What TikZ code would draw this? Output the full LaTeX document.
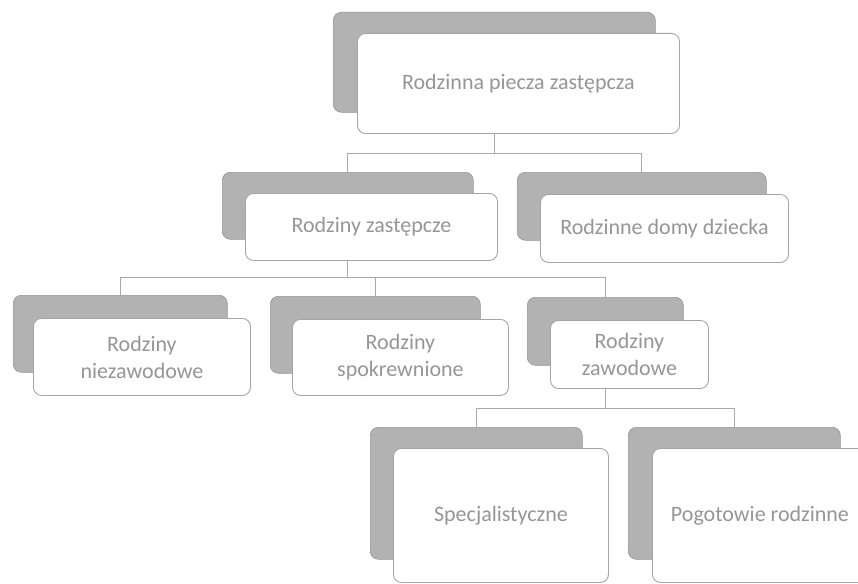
\documentclass[tikz,border=0pt]{standalone}
\usepackage{fontspec}
\setmainfont{Carlito}
\definecolor{backfill}{RGB}{178,178,178}
\definecolor{backline}{RGB}{150,150,150}
\definecolor{frontline}{RGB}{165,165,165}
\definecolor{connline}{RGB}{170,170,170}
\definecolor{txt}{RGB}{150,150,150}
\begin{document}
\begin{tikzpicture}[x=1pt,y=-1pt,
  back/.style={draw=backline, fill=backfill, rounded corners=8pt, line width=0.6pt, inner sep=0pt, anchor=north west},
  front/.style={draw=frontline, fill=white, rounded corners=8pt, line width=0.9pt, inner sep=0pt, anchor=north west,
    text=txt, font=\fontsize{22}{27}\selectfont, align=center},
  conn/.style={draw=connline, line width=1pt}]
\clip (0,0) rectangle (858,583);
\fill[white] (0,0) rectangle (858,583);

% level 1
\node[back, minimum width=322pt, minimum height=100pt] (t1b) at (333,12) {};
\node[front, minimum width=322pt, minimum height=100pt] (t1) at (357,33) {Rodzinna piecza zastępcza};

% level 2
\node[back, minimum width=251pt, minimum height=67pt] (aB) at (222,172) {};
\node[front, minimum width=252pt, minimum height=67pt] (a) at (245,193) {Rodziny zastępcze};
\node[back, minimum width=249pt, minimum height=68pt] (bB) at (517,172) {};
\node[front, minimum width=248pt, minimum height=68pt] (b) at (540,194) {Rodzinne domy dziecka};

% level 3
\node[back, minimum width=214pt, minimum height=77pt] (cB) at (13,295) {};
\node[front, minimum width=217pt, minimum height=77pt] (c) at (33,318) {Rodziny\\niezawodowe};
\node[back, minimum width=210pt, minimum height=77pt] (dB) at (270,296) {};
\node[front, minimum width=216pt, minimum height=76pt] (d) at (292,319) {Rodziny\\spokrewnione};
\node[back, minimum width=156pt, minimum height=68pt] (eB) at (527,297) {};
\node[front, minimum width=158pt, minimum height=68pt] (e) at (550,320) {Rodziny\\zawodowe};

% level 4
\node[back, minimum width=212pt, minimum height=132pt] (fB) at (370,427) {};
\node[front, minimum width=215pt, minimum height=134pt] (f) at (393,448) {Specjalistyczne};
\node[back, minimum width=212pt, minimum height=132pt] (gB) at (628,427) {};
\node[front, minimum width=215pt, minimum height=134pt] (g) at (652,448) {Pogotowie rodzinne};

% connector joints
\coordinate (j1) at (0,153);
\coordinate (j2) at (0,277);
\coordinate (j3) at (0,408);

\draw[conn] (t1b.center |- t1.south) -- (t1b.center |- j1);
\draw[conn] (aB.north) -- (aB.north |- j1) -- (bB.north |- j1) -- (bB.north);

\draw[conn] (aB.center |- a.south) -- (aB.center |- j2);
\draw[conn] (cB.north) -- (cB.north |- j2) -- (eB.north |- j2) -- (eB.north);
\draw[conn] (dB.north) -- (dB.north |- j2);

\draw[conn] (eB.center |- e.south) -- (eB.center |- j3);
\draw[conn] (fB.north) -- (fB.north |- j3) -- (gB.north |- j3) -- (gB.north);
\end{tikzpicture}
\end{document}
